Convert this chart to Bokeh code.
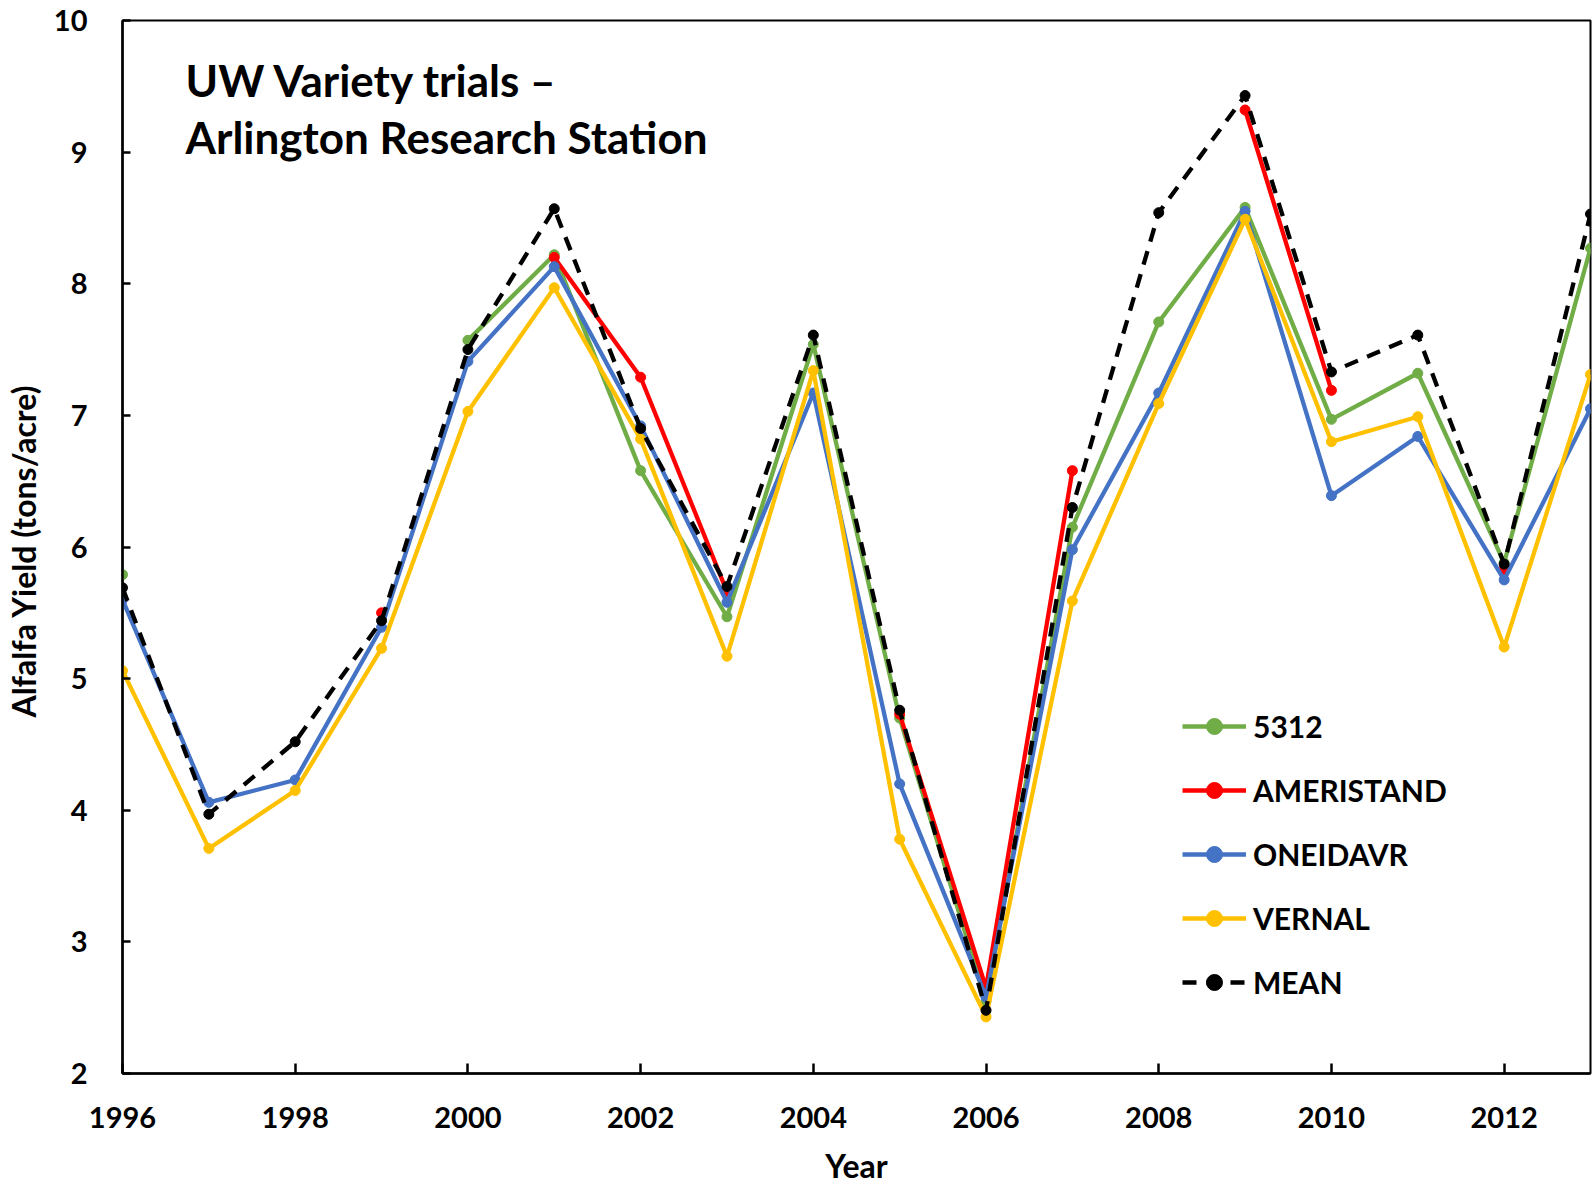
import numpy as np
from bokeh.plotting import figure
from bokeh.models import Range1d, FixedTicker, Legend, LegendItem, Label, ColumnDataSource
from bokeh.embed import file_html
from bokeh.resources import INLINE

nan = np.nan

years = list(range(1996, 2014))
v5312 = [5.79, nan, nan, nan, 7.57, 8.22, 6.58, 5.47, 7.54, 4.70, 2.55, 6.15, 7.71, 8.58, 6.97, 7.32, 5.88, 8.27]
ameristand = [nan, nan, nan, 5.50, nan, 8.20, 7.29, 5.66, nan, 4.73, 2.65, 6.58, nan, 9.32, 7.19, nan, 5.83, nan]
oneidavr = [5.60, 4.06, 4.23, 5.39, 7.41, 8.13, 6.92, 5.58, 7.17, 4.20, 2.58, 5.98, 7.17, 8.55, 6.39, 6.84, 5.75, 7.05]
vernal = [5.06, 3.71, 4.15, 5.23, 7.03, 7.97, 6.82, 5.17, 7.34, 3.78, 2.43, 5.59, 7.09, 8.49, 6.80, 6.99, 5.24, 7.31]
mean = [5.69, 3.97, 4.52, 5.44, 7.50, 8.57, 6.90, 5.70, 7.61, 4.76, 2.48, 6.30, 8.54, 9.43, 7.33, 7.61, 5.87, 8.53]

series_names = ["5312", "AMERISTAND", "ONEIDAVR", "VERNAL", "MEAN"]
series_values = [v5312, ameristand, oneidavr, vernal, mean]
series_colors = ["#70AD47", "#FF0000", "#4472C4", "#FFC000", "#000000"]
series_dash = ["solid", "solid", "solid", "solid", "14 10"]

x_ticks = [1996, 1998, 2000, 2002, 2004, 2006, 2008, 2010, 2012]
y_ticks = [2, 3, 4, 5, 6, 7, 8, 9, 10]

title_line1 = "UW Variety trials \u2013"
title_line2 = "Arlington Research Station"
x_label = "Year"
y_label = "Alfalfa  Yield (tons/acre)"

FONT = "Lato"

p = figure(width=1595, height=1188, output_backend="svg", toolbar_location=None,
           x_range=Range1d(1996, 2013), y_range=Range1d(2, 10),
           min_border_left=122, min_border_right=5, min_border_top=20, min_border_bottom=115,
           background_fill_color="white", border_fill_color="white")

p.xgrid.visible = False
p.ygrid.visible = False
p.outline_line_color = "black"
p.outline_line_width = 2

for ax in (p.xaxis[0], p.yaxis[0]):
    ax.axis_line_width = 2.5
    ax.axis_line_color = "black"
    ax.major_tick_line_width = 2.5
    ax.major_tick_line_color = "black"
    ax.major_tick_out = 0
    ax.minor_tick_line_color = None
    ax.major_label_text_font = FONT
    ax.major_label_text_font_style = "bold"
    ax.major_label_text_font_size = "29px"
    ax.major_label_text_color = "black"
    ax.axis_label_text_font = FONT
    ax.axis_label_text_font_style = "bold"
    ax.axis_label_text_font_size = "32px"
    ax.axis_label_text_color = "black"

p.xaxis[0].ticker = FixedTicker(ticks=x_ticks)
p.yaxis[0].ticker = FixedTicker(ticks=y_ticks)
p.xaxis[0].major_tick_in = 10
p.yaxis[0].major_tick_in = 8
p.xaxis[0].major_label_standoff = 33
p.yaxis[0].major_label_standoff = 35
p.xaxis[0].axis_label = x_label
p.yaxis[0].axis_label = y_label
p.xaxis[0].axis_label_standoff = 15
p.yaxis[0].axis_label_standoff = 8

items = []
for name, vals, col, dash in zip(series_names, series_values, series_colors, series_dash):
    src = ColumnDataSource(data=dict(x=np.array(years, dtype=float), y=np.array(vals, dtype=float)))
    ln = p.line("x", "y", source=src, line_color=col, line_width=4.3, line_dash=dash)
    sc = p.scatter("x", "y", source=src, size=10, marker="circle", fill_color=col, line_color=col)
    items.append(LegendItem(label=name, renderers=[ln, sc]))

legend = Legend(items=items, location=(1060, 71), glyph_width=64, glyph_height=40,
                label_height=40, spacing=24, padding=0, label_standoff=7, margin=0,
                label_text_font=FONT, label_text_font_style="bold", label_text_font_size="30px",
                label_text_color="black", border_line_alpha=0, background_fill_alpha=0)
p.add_layout(legend)

p.add_layout(Label(x=63, y=994, x_units="screen", y_units="screen", text=title_line1,
                   text_font=FONT, text_font_style="bold", text_font_size="44px",
                   text_color="black", text_baseline="alphabetic"))
p.add_layout(Label(x=63, y=937, x_units="screen", y_units="screen", text=title_line2,
                   text_font=FONT, text_font_style="bold", text_font_size="44px",
                   text_color="black", text_baseline="alphabetic"))

open("out.html", "w").write(file_html(p, INLINE))
